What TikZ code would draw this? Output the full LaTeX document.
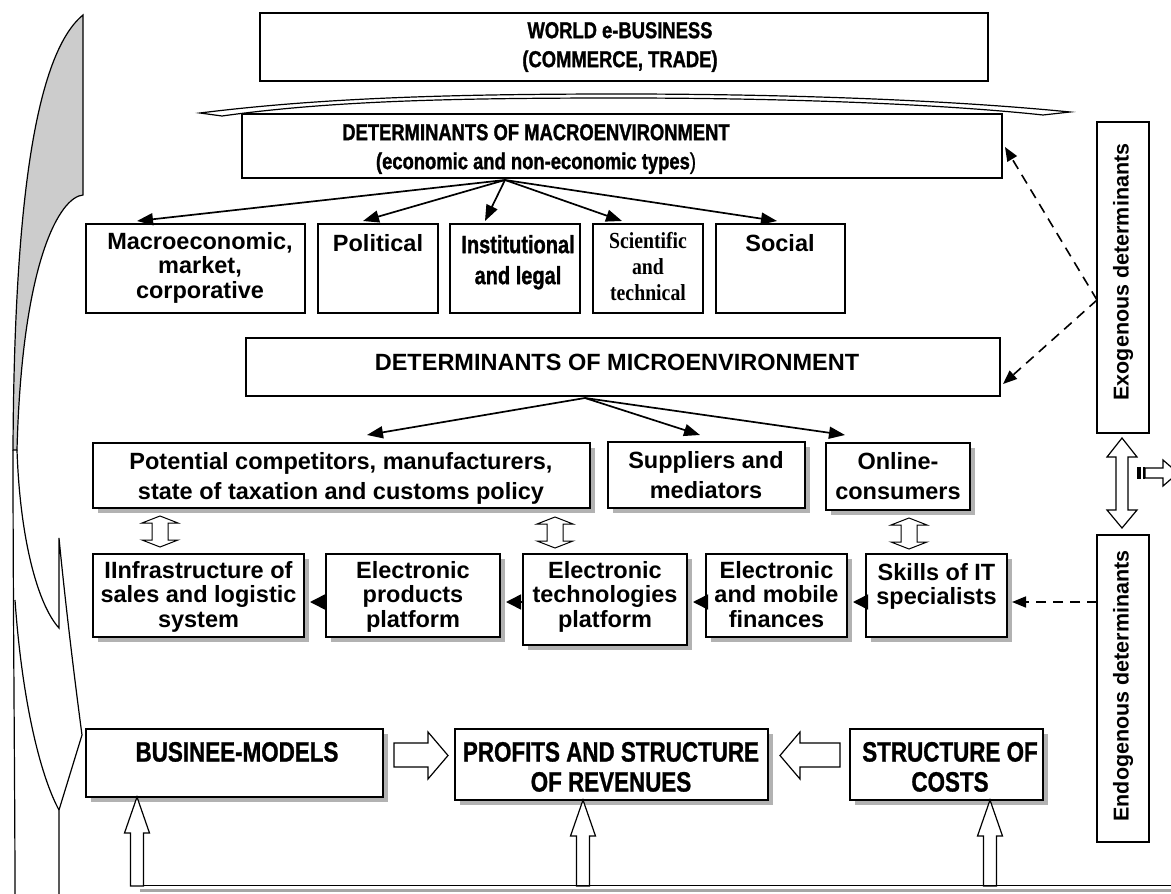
\documentclass[tikz,border=0pt]{standalone}
\usepackage{fontspec}
\setmainfont{Liberation Sans}
\newfontfamily\nar[FakeStretch=0.8,FakeBold=1.2]{Liberation Sans}
\newfontfamily\narb[FakeStretch=0.8,FakeBold=1]{Liberation Sans}
\newfontfamily\tms[FakeStretch=0.86]{Liberation Serif}
\usetikzlibrary{arrows.meta,shadows,calc}
\begin{document}
\begin{tikzpicture}[x=1pt,y=-1pt,
  every node/.style={inner sep=0pt, outer sep=0pt},
  box/.style={draw, line width=1.2pt, fill=white, anchor=north west},
  sbox/.style={box, drop shadow={shadow xshift=5pt,shadow yshift=-5pt,fill=black!30,opacity=1}},
  bt/.style={align=center, font=\bfseries\fontsize{23.5}{24.5}\selectfont},
  btm/.style={align=center, font=\bfseries\fontsize{23.5}{30}\selectfont},
  bt2/.style={align=center, font=\bfseries\fontsize{21.5}{24}\selectfont},
  nt/.style={align=center, font=\nar\bfseries\fontsize{23}{29}\selectfont},
  nt2/.style={align=center, font=\nar\bfseries\fontsize{25}{31}\selectfont},
  nb/.style={align=center, font=\narb\bfseries\fontsize{28}{30}\selectfont},
  tt/.style={align=center, font=\tms\bfseries\fontsize{23}{26}\selectfont},
  arr/.style={line width=1.7pt, -{Triangle[length=16pt,width=12pt]}},
  arr2/.style={line width=1.5pt, -{Triangle[length=15pt,width=15pt]}},
  darr/.style={line width=1.6pt, dash pattern=on 10pt off 7pt, -{Triangle[length=14pt,width=11pt]}},
  hol/.style={draw, fill=white, line width=1.2pt, line join=miter},
  dblv/.pic={\draw[hol, line width=1pt] (0,0) -- (18,7) -- (8,7) -- (8,24) -- (18,24) -- (0,31) -- (-18,24) -- (-8,24) -- (-8,7) -- (-18,7) -- cycle;}
]
\useasboundingbox (0,0) rectangle (1171,894);

% left brace-like shape
\draw[line width=1.2pt, fill=black!20] (83,15) -- (83,195) .. controls (60,197) and (22,260) .. (17,450) -- (13,450) .. controls (14,250) and (28,60) .. (83,15) -- cycle;
\draw[line width=1.2pt] (13,450) .. controls (13,600) and (15,800) .. (15,894);
\draw[line width=1.2pt] (17,450) .. controls (20,540) and (38,605) .. (59,628) -- (59,538) .. controls (66,610) and (76,690) .. (82,735) -- (59,810) -- (59,894);
\draw[line width=1.2pt] (15,600) .. controls (22,700) and (40,775) .. (59,810);

% world
\node[box, minimum width=728pt, minimum height=68pt] (world) at (260,13) {};
\node[nt] (worldt) at (620,47) {WORLD e-BUSINESS\\(COMMERCE, TRADE)};

% curved bar
\draw[line width=1.2pt, fill=white] (200,113) .. controls (320,98) and (450,94) .. (620,94) .. controls (800,94) and (960,101) .. (1070,112) -- (1043,115) .. controls (950,105) and (800,98) .. (620,98) .. controls (450,98) and (330,101) .. (222,116) -- cycle;

% macro
\node[box, minimum width=760pt, minimum height=64pt] (macro) at (242,114) {};
\node[nt] (macrot) at (536,149) {DETERMINANTS OF MACROENVIRONMENT\\(economic and non-economic types{\mdseries)}};

\node[box, minimum width=219pt, minimum height=89pt] (m1) at (86,224) {};
\node[box, minimum width=120pt, minimum height=89pt] (m2) at (318,224) {};
\node[box, minimum width=130pt, minimum height=89pt] (m3) at (450,224) {};
\node[box, minimum width=110pt, minimum height=89pt] (m4) at (593,224) {};
\node[box, minimum width=129pt, minimum height=89pt] (m5) at (716,224) {};
\node[bt, anchor=north] (m1t) at (200,232) {Macroeconomic,\\market,\\corporative};
\node[bt, anchor=north] (m2t) at (378,234) {Political};
\node[nt2, anchor=north] (m3t) at (518,235) {Institutional\\and legal};
\node[tt, anchor=north] (m4t) at (648,232) {Scientific\\and\\technical};
\node[bt, anchor=north] (m5t) at (780,234) {Social};

\coordinate (msrc) at (505,180);
\foreach \n/\dx in {m1/51,m2/45,m3/35,m4/29,m5/61}
  \draw[arr] (msrc) -- ([xshift=\dx pt,yshift=3pt]\n.north west);

% micro
\node[box, minimum width=754pt, minimum height=58pt] (micro) at (246,338) {};
\node[bt] (microt) at (617,362) {DETERMINANTS OF MICROENVIRONMENT};

\node[sbox, minimum width=497pt, minimum height=65pt] (pot) at (93,443) {};
\node[sbox, minimum width=197pt, minimum height=66pt] (sup) at (608,442) {};
\node[sbox, minimum width=144pt, minimum height=67pt] (onl) at (826,443) {};
\node[btm, anchor=north] (pott) at (341,452) {Potential competitors, manufacturers,\\state of taxation and customs policy};
\node[btm, anchor=north] (supt) at (706,451) {Suppliers and\\mediators};
\node[btm, anchor=north] (onlt) at (898,452) {Online-\\consumers};

\coordinate (msrc2) at (585,398);
\draw[arr] (msrc2) -- ([xshift=274pt,yshift=8pt]pot.north west);
\draw[arr] (msrc2) -- ([xshift=92pt,yshift=7pt]sup.north west);
\draw[arr] (msrc2) -- ([xshift=19pt,yshift=8pt]onl.north west);

\pic at (160,516) {dblv};
\pic at (555,517) {dblv};
\pic at (909,518) {dblv};

% lower row
\node[sbox, minimum width=211pt, minimum height=83pt] (A) at (93,554) {};
\node[sbox, minimum width=174pt, minimum height=83pt] (B) at (326,554) {};
\node[sbox, minimum width=164pt, minimum height=91pt] (C) at (523,554) {};
\node[sbox, minimum width=141pt, minimum height=83pt] (D) at (706,554) {};
\node[sbox, minimum width=141pt, minimum height=83pt] (E) at (866,554) {};
\node[bt, anchor=north] (At) at (198.5,561) {IInfrastructure of\\sales and logistic\\system};
\node[bt, anchor=north] (Bt) at (413,561) {Electronic\\products\\platform};
\node[bt, anchor=north] (Ct) at (605,561) {Electronic\\technologies\\platform};
\node[bt, anchor=north] (Dt) at (776.5,561) {Electronic\\and mobile\\finances};
\node[bt, anchor=north] (Et) at (936.5,563) {Skills of IT\\specialists};

\coordinate (ay) at (0,602);
\draw[arr2] (B.west |- ay) -- ($(A.east |- ay)+(6,0)$);
\draw[arr2] (C.west |- ay) -- ($(B.east |- ay)+(6,0)$);
\draw[arr2] (D.west |- ay) -- ($(C.east |- ay)+(6,0)$);
\draw[arr2] (E.west |- ay) -- ($(D.east |- ay)+(6,0)$);

% right side
\node[box, minimum width=52pt, minimum height=311pt] (exo) at (1097,122) {};
\node[bt2, rotate=90] (exot) at (1123,272) {Exogenous determinants};
\node[box, minimum width=52pt, minimum height=307pt] (endo) at (1097,535) {};
\node[bt2, rotate=90] (endot) at (1123,686) {Endogenous determinants};

\coordinate (y300) at (0,300);
\coordinate (y147) at (0,147);
\coordinate (y384) at (0,384);
\draw[darr] (exo.west |- y300) -- ($(macro.east |- y147)+(3,0)$);
\draw[darr] (exo.west |- y300) -- ($(micro.east |- y384)+(3,0)$);
\draw[darr] (endo.west |- ay) -- ($(E.east |- ay)+(5,0)$);

\draw[hol] (1122,438) -- (1137,457) -- (1128,457) -- (1128,510) -- (1137,510) -- (1122,528) -- (1107,510) -- (1116,510) -- (1116,457) -- (1107,457) -- cycle;
\fill (1137,467) rectangle (1141,479);
\fill (1142.5,467) rectangle (1144.5,479);
\draw[hol] (1145,468) -- (1163,468) -- (1163,460) -- (1178,473) -- (1163,486) -- (1163,478) -- (1145,478) -- cycle;

% bottom row
\node[sbox, minimum width=297pt, minimum height=68pt] (bm) at (86,729) {};
\node[sbox, minimum width=313pt, minimum height=71pt] (pr) at (455,729) {};
\node[sbox, minimum width=193pt, minimum height=71pt] (sc) at (850,729) {};
\node[nb, anchor=north] (bmt) at (237,742) {BUSINEE-MODELS};
\node[nb, anchor=north] (prt) at (611,742) {PROFITS AND STRUCTURE\\OF REVENUES};
\node[nb, anchor=north] (sct) at (950,742) {STRUCTURE OF\\COSTS};

\draw[hol] (394,743) -- (428,743) -- (428,732) -- (448,755.5) -- (428,779) -- (428,767) -- (394,767) -- cycle;
\draw[hol] (840,743) -- (800,743) -- (800,732) -- (780,755.5) -- (800,779) -- (800,767) -- (840,767) -- cycle;

\draw[black!35, line width=3pt] (140,890) -- (1171,890);
\foreach \x/\t in {137/797,583/800,990/800}
  \draw[hol] (\x,\t) -- (\x+12.5,\t+36) -- (\x+6.5,\t+36) -- (\x+6.5,886) -- (\x-6.5,886) -- (\x-6.5,\t+36) -- (\x-12.5,\t+36) -- cycle;
\draw[line width=1.8pt] (143.5,885.5) -- (1171,885.5);
\end{tikzpicture}
\end{document}
